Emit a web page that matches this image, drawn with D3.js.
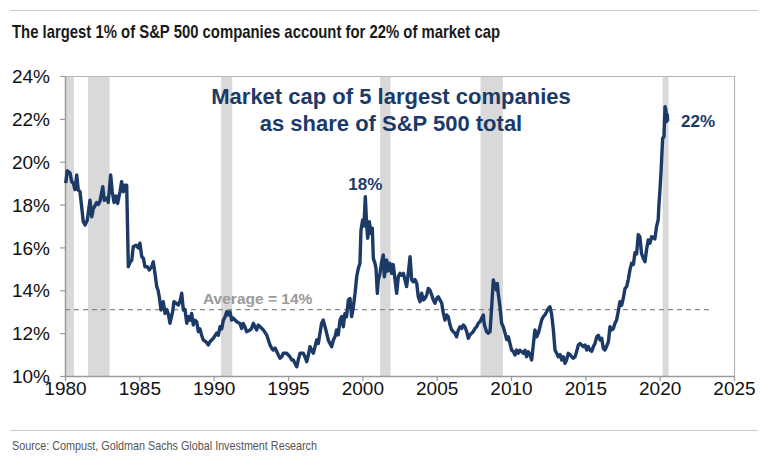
<!DOCTYPE html>
<html><head><meta charset="utf-8">
<script src="https://cdn.jsdelivr.net/npm/d3@7"></script>
<style>
html,body{margin:0;padding:0;background:#fff;}
svg{display:block;}
</style></head>
<body><svg id="c" width="768" height="461"></svg>
<script>
const years = [1980.05,1980.15,1980.34,1980.45,1980.56,1980.67,1980.79,1980.89,1981.01,1981.12,1981.23,1981.35,1981.50,1981.68,1981.80,1981.90,1982.02,1982.13,1982.24,1982.35,1982.54,1982.64,1982.80,1982.91,1983.07,1983.18,1983.30,1983.43,1983.54,1983.70,1983.81,1983.92,1984.04,1984.15,1984.26,1984.37,1984.49,1984.59,1984.78,1984.93,1985.04,1985.16,1985.27,1985.38,1985.54,1985.67,1985.83,1985.94,1986.05,1986.17,1986.26,1986.34,1986.46,1986.61,1986.73,1986.84,1986.95,1987.06,1987.24,1987.33,1987.47,1987.62,1987.74,1987.85,1987.96,1988.07,1988.19,1988.29,1988.41,1988.52,1988.63,1988.75,1988.86,1988.97,1989.08,1989.19,1989.30,1989.48,1989.64,1989.75,1989.98,1990.20,1990.31,1990.43,1990.54,1990.65,1990.76,1990.88,1990.98,1991.10,1991.21,1991.32,1991.55,1991.77,1991.88,1991.99,1992.10,1992.22,1992.44,1992.55,1992.67,1992.78,1992.89,1993.00,1993.12,1993.34,1993.57,1993.79,1993.90,1994.01,1994.13,1994.24,1994.35,1994.46,1994.58,1994.68,1994.80,1994.91,1995.02,1995.13,1995.25,1995.36,1995.47,1995.59,1995.69,1995.81,1996.03,1996.14,1996.26,1996.37,1996.48,1996.59,1996.70,1996.82,1996.93,1997.04,1997.15,1997.26,1997.37,1997.49,1997.60,1997.71,1997.82,1997.94,1998.05,1998.16,1998.27,1998.38,1998.50,1998.61,1998.72,1998.83,1998.94,1999.06,1999.17,1999.28,1999.39,1999.51,1999.62,1999.73,1999.84,1999.91,2000.02,2000.11,2000.20,2000.29,2000.36,2000.47,2000.58,2000.67,2000.74,2000.85,2000.92,2001.01,2001.07,2001.19,2001.30,2001.41,2001.48,2001.64,2001.71,2001.86,2001.97,2002.08,2002.20,2002.31,2002.42,2002.53,2002.64,2002.76,2002.87,2002.98,2003.09,2003.21,2003.32,2003.43,2003.54,2003.66,2003.76,2003.88,2003.99,2004.10,2004.21,2004.33,2004.44,2004.55,2004.66,2004.77,2004.89,2005.00,2005.11,2005.22,2005.34,2005.45,2005.56,2005.67,2005.78,2005.90,2006.01,2006.12,2006.23,2006.34,2006.46,2006.57,2006.68,2006.79,2006.90,2007.02,2007.13,2007.24,2007.35,2007.46,2007.58,2007.69,2007.80,2007.91,2008.02,2008.14,2008.19,2008.25,2008.36,2008.47,2008.59,2008.70,2008.81,2008.92,2009.04,2009.08,2009.14,2009.26,2009.37,2009.48,2009.60,2009.71,2009.82,2009.93,2010.04,2010.15,2010.27,2010.38,2010.49,2010.60,2010.72,2010.83,2010.94,2011.05,2011.16,2011.28,2011.39,2011.50,2011.61,2011.73,2011.84,2011.95,2012.06,2012.17,2012.28,2012.40,2012.51,2012.62,2012.73,2012.85,2012.96,2013.07,2013.18,2013.30,2013.41,2013.52,2013.63,2013.74,2013.85,2013.97,2014.08,2014.19,2014.31,2014.42,2014.53,2014.64,2014.75,2014.86,2014.98,2015.09,2015.20,2015.31,2015.43,2015.54,2015.65,2015.77,2015.88,2015.99,2016.10,2016.21,2016.32,2016.44,2016.55,2016.66,2016.77,2016.88,2016.99,2017.10,2017.21,2017.33,2017.44,2017.55,2017.67,2017.78,2017.89,2018.00,2018.11,2018.23,2018.34,2018.45,2018.56,2018.67,2018.78,2018.90,2019.01,2019.12,2019.23,2019.35,2019.46,2019.57,2019.68,2019.79,2019.90,2019.95,2020.02,2020.09,2020.13,2020.20,2020.29,2020.36,2020.42,2020.47,2020.51,2020.54];
const shares = [19.0,19.58,19.47,19.07,19.0,18.7,19.38,18.68,18.6,17.9,17.2,17.05,17.28,18.2,17.43,17.8,17.95,18.1,18.0,18.15,18.83,18.2,18.3,18.1,19.38,18.6,18.1,18.4,18.05,18.6,19.07,18.6,18.9,18.9,15.1,15.3,15.4,16.03,16.1,15.98,16.2,15.57,15.5,15.1,15.1,14.95,15.1,15.33,14.8,14.17,14.0,13.7,13.08,13.47,12.92,13.1,12.9,12.46,13.0,13.47,13.4,13.31,13.5,13.86,13.08,13.1,12.46,12.77,12.6,12.92,12.38,12.6,12.53,12.07,12.2,11.9,11.68,11.6,11.45,11.6,11.76,12.0,11.9,12.3,12.2,12.61,12.75,13.0,12.85,13.0,12.61,12.7,12.53,12.45,12.22,12.45,12.3,12.07,12.15,12.22,12.46,12.3,12.15,12.38,12.3,12.15,11.91,11.45,11.3,11.21,11.3,11.15,10.98,10.83,10.9,11.06,11.06,11.06,10.98,10.9,10.75,10.75,10.59,10.43,10.75,11.06,11.06,10.9,10.67,10.98,11.37,11.2,11.06,11.37,11.68,11.52,11.99,12.46,12.61,12.3,12.0,11.68,11.52,11.37,11.68,11.83,12.15,11.92,12.61,12.77,12.3,12.92,12.77,13.55,13.62,12.77,13.2,13.86,14.63,15.02,15.26,16.81,17.28,17.0,18.37,17.05,16.43,17.2,16.66,16.9,15.49,15.26,15.02,13.86,14.48,14.79,15.33,15.65,14.63,15.41,14.9,15.26,14.79,15.2,14.48,13.86,14.63,14.79,14.7,14.79,14.48,14.17,14.79,15.57,14.48,14.4,14.5,14.32,13.7,13.47,13.86,13.55,13.62,13.78,14.09,14.0,13.8,13.55,13.4,13.62,13.7,13.55,13.4,12.92,12.61,12.85,12.77,12.38,12.15,12.07,12.0,11.83,12.15,12.3,12.22,12.38,12.3,12.07,11.76,11.92,12.0,12.07,12.22,12.3,12.46,12.53,12.69,12.85,12.46,12.3,12.07,12.0,12.07,13.23,14.48,14.2,14.0,14.32,13.86,13.23,12.46,12.3,12.0,11.7,11.83,11.52,11.21,11.15,10.98,11.21,11.06,11.2,11.13,11.06,11.2,10.9,11.13,11.0,10.75,11.45,12.15,11.83,12.0,12.3,12.61,12.77,12.85,13.0,13.15,13.23,12.9,12.15,11.21,11.06,10.9,11.0,10.75,10.9,10.59,10.75,11.06,11.0,10.9,10.83,10.9,11.15,11.45,11.52,11.45,11.37,11.45,11.21,11.37,11.21,11.15,11.37,11.52,11.83,11.9,11.68,11.76,11.29,11.21,11.4,11.6,12.3,12.15,12.2,12.45,12.61,13.0,13.47,13.3,13.62,14.09,14.17,14.5,14.95,15.26,15.2,15.75,15.7,16.6,16.5,15.72,15.49,15.33,15.9,16.35,16.2,16.5,16.45,16.4,16.97,17.28,18.0,18.68,19.5,20.08,21.09,21.17,22.57,22.4,21.87,22.2,21.9];

const recessionStart = [1980.0, 1981.55, 1990.5, 2001.2, 2007.95, 2020.2];
const recessionEnd   = [1980.6, 1983.0, 1991.25, 2001.9, 2009.45, 2020.6];

const xTicks = [1980,1985,1990,1995,2000,2005,2010,2015,2020,2025];
const yTicks = [10,12,14,16,18,20,22,24];
const averageShare = 13.1;
const averageLabel = "Average = 14%";
const averageEnd = 2023.4;

const title = "The largest 1% of S&P 500 companies account for 22% of market cap";
const subtitleLines = ["Market cap of 5 largest companies", "as share of S&P 500 total"];
const sourceText = "Source: Compust, Goldman Sachs Global Investment Research";
const peakLabels = [{year:2000.2, value:18.37, text:"18%"}];
const endLabel = "22%";

(function(){
const svg = d3.select("#c");
const mL = 65, mR = 734, mT = 76, mB = 376;
const x = d3.scaleLinear().domain([1980,2025]).range([mL,mR]);
const y = d3.scaleLinear().domain([10,24]).range([mB,mT]);
const navy = "#1c3a68";
const sans = "'Liberation Sans',Arial,Helvetica,sans-serif";

svg.append("line").attr("x1",10).attr("x2",758).attr("y1",10.5).attr("y2",10.5).attr("stroke","#c8c8c8").attr("stroke-width",1);
svg.append("line").attr("x1",10).attr("x2",758).attr("y1",430.5).attr("y2",430.5).attr("stroke","#c8c8c8").attr("stroke-width",1);

svg.append("text").attr("x",12).attr("y",38).attr("font-family",sans).attr("font-weight","bold")
  .attr("font-size",19).attr("fill","#1a1a1a")
  .attr("textLength",488).attr("lengthAdjust","spacingAndGlyphs").text(title);
svg.append("text").attr("x",12).attr("y",450).attr("font-family",sans)
  .attr("font-size",13.5).attr("fill","#555")
  .attr("textLength",305).attr("lengthAdjust","spacingAndGlyphs").text(sourceText);

svg.append("g").selectAll("rect").data(recessionStart).join("rect")
  .attr("x",(d)=>x(d)).attr("width",(d,i)=>x(recessionEnd[i])-x(d))
  .attr("y",mT).attr("height",mB-mT).attr("fill","#d9d9d9");

svg.append("path").attr("d",`M${mL},${mT+0.5}H${mR+0.5}V${mB}`).attr("fill","none").attr("stroke","#b5b5b5").attr("stroke-width",1.2);

const yAxis = svg.append("g").attr("transform",`translate(${mL},0)`)
  .call(d3.axisLeft(y).tickValues(yTicks).tickFormat(d=>d+"%").tickSize(5).tickSizeOuter(0));
const xAxis = svg.append("g").attr("transform",`translate(0,${mB})`)
  .call(d3.axisBottom(x).tickValues(xTicks).tickFormat(d3.format("d")).tickSize(5).tickSizeOuter(0));
[yAxis,xAxis].forEach(a=>{
  a.select(".domain").attr("stroke","#9a9a9a").attr("stroke-width",1.5);
  a.selectAll(".tick line").attr("stroke","#9a9a9a").attr("stroke-width",1.2);
  a.selectAll("text").attr("font-family",sans).attr("font-size",19).attr("fill","#111");
});
yAxis.selectAll("text").attr("x",-15).attr("dy","0.35em");
xAxis.selectAll("text").attr("y",6).attr("dy","0.71em");

svg.append("line").attr("x1",x(1980)).attr("x2",x(averageEnd))
  .attr("y1",y(averageShare)).attr("y2",y(averageShare))
  .attr("stroke","#8a8a8a").attr("stroke-width",1.2).attr("stroke-dasharray","5,4");
svg.append("text").attr("x",203).attr("y",y(averageShare)-6).attr("font-family",sans).attr("font-weight","bold")
  .attr("font-size",15.5).attr("fill","#9a9a9a").text(averageLabel);

const pts = years.map((d,i)=>[d,shares[i]]);
svg.append("path").datum(pts)
  .attr("d",d3.line().x(d=>x(d[0])).y(d=>y(d[1])))
  .attr("fill","none").attr("stroke",navy).attr("stroke-width",3.4).attr("stroke-linejoin","round");

svg.append("g").selectAll("text").data(subtitleLines).join("text")
  .attr("x",391).attr("y",(d,i)=>104+i*27).attr("text-anchor","middle")
  .attr("font-family",sans).attr("font-weight","bold").attr("font-size",22).attr("fill",navy).text(d=>d);
peakLabels.forEach(p=>{
  svg.append("text").attr("x",x(p.year)).attr("y",y(p.value)-7).attr("text-anchor","middle")
    .attr("font-family",sans).attr("font-weight","bold").attr("font-size",17).attr("fill",navy).text(p.text);
});
svg.append("text").attr("x",681).attr("y",127).attr("font-family",sans).attr("font-weight","bold")
  .attr("font-size",17).attr("fill",navy).text(endLabel);
})();
</script></body></html>
